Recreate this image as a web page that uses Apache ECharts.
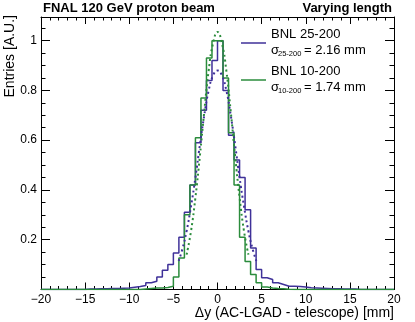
<!DOCTYPE html>
<html lang="en">
<head>
    <meta charset="UTF-8">
    <title>FNAL 120 GeV proton beam - varying length</title>
    <script src="https://cdn.jsdelivr.net/npm/echarts@6/dist/echarts.min.js"></script>
</head>
<body style="margin:0;">
<div id="main" style="width: 415px;height: 322px;"></div>

<script type="text/javascript">
    // histogram binning: 64 bins from -20 to 20 mm
    var histMin = -20;
    var binWidth = 0.625;

    // BNL 25-200, one value per bin (left edge = histMin + i*binWidth)
    var bnl25 = [
        0, 0, 0, 0, 0, 0, 0, 0,
        0.002, 0.002, 0.003, 0.003, 0.004, 0.004, 0.005, 0.006,
        0.009, 0.012, 0.016, 0.027, 0.033, 0.05, 0.077, 0.10,
        0.147, 0.21, 0.31, 0.42, 0.59, 0.72, 0.84, 0.92,
        1.0, 0.80, 0.62, 0.52, 0.45, 0.32, 0.167, 0.08,
        0.047, 0.04, 0.027, 0.02, 0.013, 0.013, 0.012, 0.01,
        0.007, 0.006, 0.005, 0.004, 0.003, 0.003, 0.002, 0.002,
        0.002, 0, 0, 0, 0, 0, 0, 0
    ];
    // BNL 10-200
    var bnl10 = [
        0, 0, 0, 0, 0, 0, 0, 0,
        0, 0, 0, 0, 0, 0, 0, 0,
        0, 0, 0.002, 0.004, 0.006, 0.006, 0.008, 0.013,
        0.05, 0.127, 0.30, 0.42, 0.61, 0.77, 0.93, 1.0,
        1.0, 0.85, 0.63, 0.42, 0.21, 0.113, 0.06, 0.027,
        0.01, 0.006, 0.004, 0.003, 0.001, 0, 0, 0,
        0, 0, 0, 0, 0, 0, 0, 0,
        0, 0, 0, 0, 0, 0, 0, 0
    ];

    // gaussian fits (dotted)
    var fitX25 = [-4.4, -4, -3.5, -3, -2.5, -2, -1.5, -1, -0.5, 0, 0.5, 1, 1.5, 2, 2.5, 3, 3.5, 4, 4.4];
    var fit25 = [0.115, 0.16, 0.235, 0.335, 0.45, 0.58, 0.70, 0.80, 0.86, 0.88, 0.86, 0.80, 0.70, 0.58, 0.45, 0.335, 0.235, 0.16, 0.115];
    var fitX10 = [-3.5, -3, -2.5, -2, -1.5, -1, -0.5, 0, 0.5, 1, 1.5, 2, 2.5, 3, 3.5];
    var fit10 = [0.14, 0.235, 0.37, 0.535, 0.715, 0.88, 0.99, 1.035, 0.99, 0.88, 0.715, 0.535, 0.37, 0.235, 0.14];

    var blue = '#3f3199';
    var green = '#2b8c3c';
    var font = 'Liberation Sans, Arial, Helvetica, sans-serif';

    function histLine(vals) {
        var pts = vals.map(function (v, i) { return [histMin + i * binWidth, v]; });
        pts.push([histMin + vals.length * binWidth, vals[vals.length - 1]]);
        return pts;
    }
    function zip(xs, ys) {
        return xs.map(function (x, i) { return [x, ys[i]]; });
    }

    var myChart = echarts.init(document.getElementById('main'));

    var black = {color: '#000', width: 1};
    var gridBox = {left: 41, right: 21, top: 17, bottom: 32.5};

    function xAx(grid, pos, labels, show) {
        return {
            type: 'value', gridIndex: grid, position: pos, show: show,
            min: -20, max: 20, interval: 5,
            axisLine: {show: true, onZero: false, lineStyle: black},
            axisTick: {inside: true, length: 7, lineStyle: black},
            minorTick: {show: true, splitNumber: 5, length: 3.5, lineStyle: black},
            splitLine: {show: false},
            axisLabel: {
                show: labels, color: '#000', fontSize: 12, fontFamily: font, margin: 4,
                formatter: function (v) { return v < 0 ? '\u2212' + (-v) : '' + v; }
            }
        };
    }
    function yAx(grid, pos, step, len, labels, line) {
        return {
            type: 'value', gridIndex: grid, position: pos,
            min: 0, max: 1.095, interval: step,
            axisLine: {show: line, onZero: false, lineStyle: black},
            axisTick: {inside: true, length: len, lineStyle: black},
            splitLine: {show: false},
            axisLabel: {
                show: labels, color: '#000', fontSize: 12, fontFamily: font, margin: 4,
                formatter: function (v) {
                    var k = v * 5;
                    if (v <= 0 || Math.abs(k - Math.round(k)) > 1e-6) return '';
                    return '' + Math.round(v * 10) / 10;
                }
            }
        };
    }

    var option = {
        animation: false,
        grid: [gridBox, gridBox],
        xAxis: [
            xAx(0, 'bottom', true, true),
            xAx(0, 'top', false, true),
            xAx(1, 'bottom', false, false)
        ],
        yAxis: [
            yAx(0, 'left', 0.05, 4.5, true, true),
            yAx(0, 'right', 0.05, 4.5, false, true),
            yAx(1, 'left', 0.2, 9, false, false),
            yAx(1, 'right', 0.2, 9, false, false)
        ],
        series: [
            {
                name: 'BNL 25-200', type: 'line', step: 'end', symbol: 'none',
                xAxisIndex: 0, yAxisIndex: 0,
                lineStyle: {color: blue, width: 1.5},
                data: histLine(bnl25)
            },
            {
                name: 'BNL 10-200', type: 'line', step: 'end', symbol: 'none',
                xAxisIndex: 0, yAxisIndex: 0,
                lineStyle: {color: green, width: 1.5},
                data: histLine(bnl10)
            },
            {
                name: 'fit 25-200', type: 'line', smooth: true, symbol: 'none',
                xAxisIndex: 0, yAxisIndex: 0,
                lineStyle: {color: blue, width: 2, type: [2, 3]},
                data: zip(fitX25, fit25)
            },
            {
                name: 'fit 10-200', type: 'line', smooth: true, symbol: 'none',
                xAxisIndex: 0, yAxisIndex: 0,
                lineStyle: {color: green, width: 2, type: [2, 3]},
                data: zip(fitX10, fit10)
            }
        ],
        graphic: [
            {type: 'text', left: 43, top: 2, style: {text: 'FNAL 120 GeV proton beam', font: 'bold 13px ' + font, fill: '#000'}},
            {type: 'text', right: 23, top: 2, style: {text: 'Varying length', font: 'bold 13px ' + font, fill: '#000'}},
            {type: 'text', x: 10, y: 15, rotation: Math.PI / 2,
                style: {text: 'Entries [A.U.]', font: '14px ' + font, fill: '#000', align: 'right', verticalAlign: 'middle'}},
            {type: 'text', x: 394, y: 313,
                style: {text: '\u0394y (AC-LGAD - telescope) [mm]', font: '14px ' + font, fill: '#000', align: 'right', verticalAlign: 'middle'}},

            // legend
            {type: 'line', shape: {x1: 241, y1: 43, x2: 266, y2: 43}, style: {stroke: blue, lineWidth: 1.5}},
            {type: 'text', x: 271, y: 34, style: {text: 'BNL 25-200', font: '13px ' + font, fill: '#000', verticalAlign: 'middle'}},
            {type: 'text', x: 271, y: 50, style: {text: '\u03c3', font: '13px ' + font, fill: '#000', verticalAlign: 'middle'}},
            {type: 'text', x: 278, y: 54, style: {text: '25-200', font: '7.5px ' + font, fill: '#000', verticalAlign: 'middle'}},
            {type: 'text', x: 304, y: 50, style: {text: '= 2.16 mm', font: '13px ' + font, fill: '#000', verticalAlign: 'middle'}},

            {type: 'line', shape: {x1: 241, y1: 80, x2: 266, y2: 80}, style: {stroke: green, lineWidth: 1.5}},
            {type: 'text', x: 271, y: 71, style: {text: 'BNL 10-200', font: '13px ' + font, fill: '#000', verticalAlign: 'middle'}},
            {type: 'text', x: 271, y: 87, style: {text: '\u03c3', font: '13px ' + font, fill: '#000', verticalAlign: 'middle'}},
            {type: 'text', x: 278, y: 91, style: {text: '10-200', font: '7.5px ' + font, fill: '#000', verticalAlign: 'middle'}},
            {type: 'text', x: 304, y: 87, style: {text: '= 1.74 mm', font: '13px ' + font, fill: '#000', verticalAlign: 'middle'}}
        ]
    };

    myChart.setOption(option);
</script>
</body>
</html>
